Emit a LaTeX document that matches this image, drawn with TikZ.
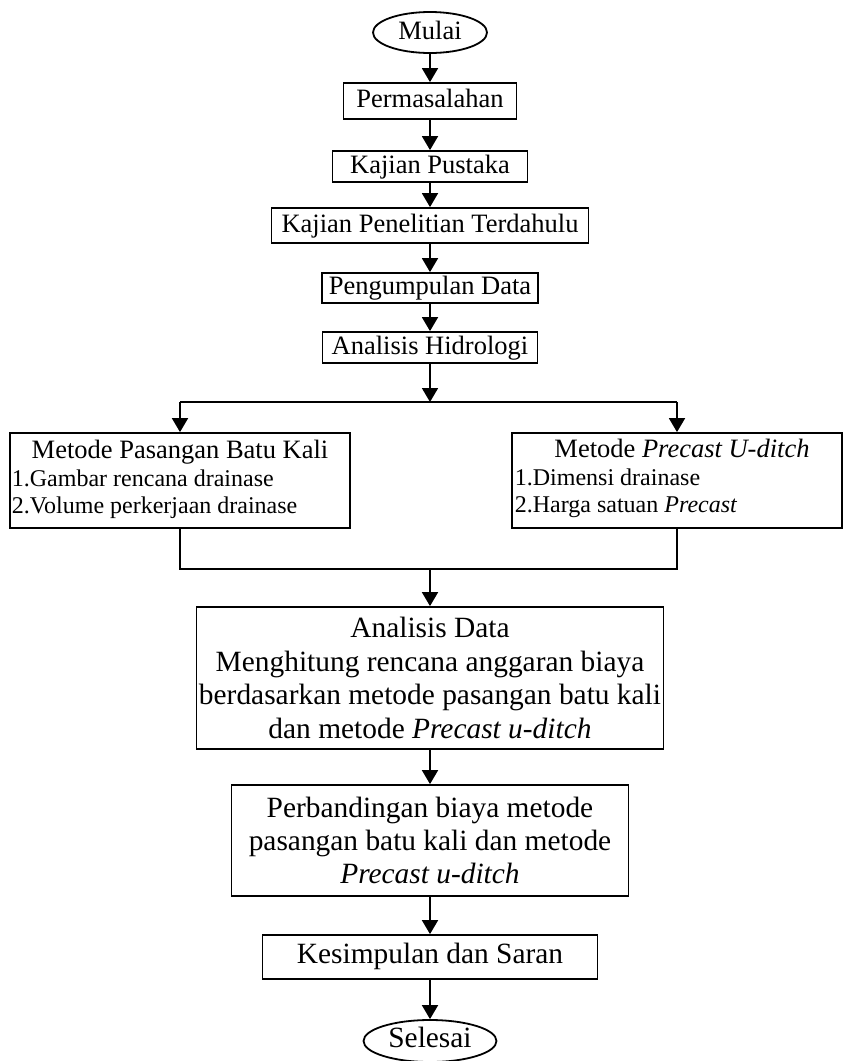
\documentclass[tikz,border=0pt]{standalone}
\usepackage{fontspec}
\setmainfont{Liberation Serif}
\usetikzlibrary{shapes.geometric, arrows.meta, positioning, calc}

\begin{document}
\begin{tikzpicture}[x=0.5pt, y=-0.5pt, line width=0.9pt,
    kotak/.style={draw, rectangle, inner sep=0pt},
    oval/.style={draw, ellipse, inner sep=0pt},
    satu/.style={text height=0.66em, text depth=0pt},
    panah/.style={-{Triangle[length=7pt,width=8pt]}},
    besar/.style={font=\fontsize{14.7}{16.75}\selectfont},
    sedang/.style={font=\fontsize{13.25}{15}\selectfont},
    kecil/.style={font=\fontsize{12}{14}\selectfont}]
    \useasboundingbox (0,0) rectangle (843,1061);

    \node[oval, satu, sedang, minimum width=57pt, minimum height=20.5pt] (mulai) at (430,32.5) {Mulai};
    \node[kotak, satu, sedang, minimum width=86.5pt, minimum height=18pt] (masalah) at (430,101) {Permasalahan};
    \node[kotak, satu, sedang, minimum width=97.5pt, minimum height=15.5pt] (pustaka) at (430,166.5) {Kajian Pustaka};
    \node[kotak, satu, sedang, minimum width=158.5pt, minimum height=17.5pt] (terdahulu) at (430,225.5) {Kajian Penelitian Terdahulu};
    \node[kotak, satu, sedang, minimum width=108pt, minimum height=15pt] (data) at (430,288) {Pengumpulan Data};
    \node[kotak, satu, sedang, minimum width=107.5pt, minimum height=15.5pt] (hidrologi) at (430,347.5) {Analisis Hidrologi};

    % kedua metode
    \node[kotak, minimum width=170pt, minimum height=47.5pt] (kiri) at (180,480.5) {};
    \node[sedang, anchor=base] (kiriJudul) at (180,458) {Metode Pasangan Batu Kali};
    \node[kecil, anchor=base west, inner sep=0pt] (kiriSatu) at (11,486) {1.Gambar rencana drainase};
    \node[kecil, anchor=base west, inner sep=0pt] (kiriDua) at (11,513) {2.Volume perkerjaan drainase};

    \node[kotak, minimum width=165pt, minimum height=47.5pt] (kanan) at (677,480.5) {};
    \node[sedang, anchor=base] (kananJudul) at (682,457) {Metode \textit{Precast U-ditch}};
    \node[kecil, anchor=base west, inner sep=0pt] (kananSatu) at (514,485) {1.Dimensi drainase};
    \node[kecil, anchor=base west, inner sep=0pt] (kananDua) at (514,512) {2.Harga satuan \textit{Precast}};

    \node[kotak, besar, align=center, minimum width=233.5pt, minimum height=71pt] (analisis) at (430,678)
      {Analisis Data\\Menghitung rencana anggaran biaya\\berdasarkan metode pasangan batu kali\\dan metode \textit{Precast u-ditch}};
    \node[kotak, besar, align=center, minimum width=198.5pt, minimum height=55.5pt,
      font=\fontsize{14.7}{16.5}\selectfont] (banding) at (430,840.5)
      {Perbandingan biaya metode\\pasangan batu kali dan metode\\\textit{Precast u-ditch}};
    \node[kotak, satu, besar, minimum width=167.5pt, minimum height=22pt] (simpulan) at (430,957) {Kesimpulan dan Saran};
    \node[oval, satu, besar, minimum width=66.5pt, minimum height=21pt] (selesai) at (430,1041) {Selesai};

    \foreach \a/\b in {mulai/masalah, masalah/pustaka, pustaka/terdahulu, terdahulu/data,
      data/hidrologi, analisis/banding, banding/simpulan, simpulan/selesai}
      \draw[panah] (\a) -- (\b);

    % cabang
    \coordinate (cabang) at (430,402);
    \draw[panah] (hidrologi) -- (cabang);
    \draw (kiri.north |- cabang) -- (kanan.north |- cabang);
    \draw[panah] (kiri.north |- cabang) -- (kiri);
    \draw[panah] (kanan.north |- cabang) -- (kanan);

    % gabung
    \coordinate (gabung) at (430,569);
    \draw (kiri) -- (kiri |- gabung) -- (kanan |- gabung) -- (kanan);
    \draw[panah] (gabung) -- (analisis);
\end{tikzpicture}
\end{document}
